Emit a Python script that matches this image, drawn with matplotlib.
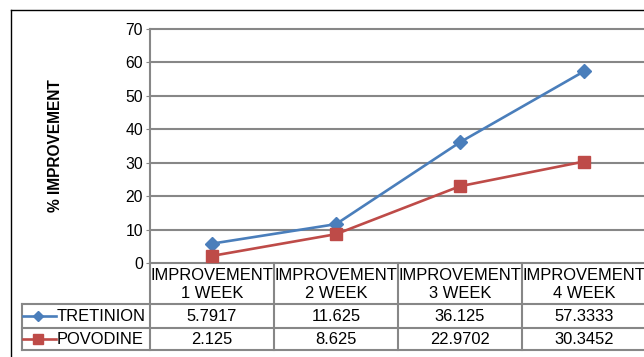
import matplotlib.pyplot as plt
from matplotlib.lines import Line2D

plt.rcParams['font.family'] = ['Liberation Sans', 'DejaVu Sans']

# data
categories = ['IMPROVEMENT\n1 WEEK', 'IMPROVEMENT\n2 WEEK',
              'IMPROVEMENT\n3 WEEK', 'IMPROVEMENT\n4 WEEK']
tretinion = [5.7917, 11.625, 36.125, 57.3333]
povodine = [2.125, 8.625, 22.9702, 30.3452]
tretinion_txt = ['5.7917', '11.625', '36.125', '57.3333']
povodine_txt = ['2.125', '8.625', '22.9702', '30.3452']
series_names = ['TRETINION', 'POVODINE']

blue = '#4A7EBB'
red = '#BE4B48'
grey = '#878787'

W, H = 644, 357
fig = plt.figure(figsize=(W / 100, H / 100), dpi=100)


def frac(x0, y0, x1, y1):
    # pixel box (from top left) -> figure fraction
    return [x0 / W, 1 - y1 / H, (x1 - x0) / W, (y1 - y0) / H]


# outer chart border
fig.add_artist(Line2D([11 / W, 1], [1 - 10 / H, 1 - 10 / H], color='black', lw=1))
fig.add_artist(Line2D([11 / W, 11 / W], [0, 1 - 10 / H], color='black', lw=1))

ax = fig.add_axes(frac(150, 29, 646, 263))
x = [i + 0.5 for i in range(len(categories))]
ax.plot(x, tretinion, color=blue, lw=1.9, marker='D', ms=7, zorder=3)
ax.plot(x, povodine, color=red, lw=1.9, marker='s', ms=8, zorder=3)
ax.set_xlim(0, len(categories))
ax.set_ylim(0, 70)
ax.set_yticks(range(0, 71, 10))
ax.set_xticks([])
ax.yaxis.grid(True, color=grey, lw=1.5)
for gl in ax.get_ygridlines():
    gl.set_clip_on(False)
ax.set_axisbelow(True)
for s in ['top', 'right', 'bottom']:
    ax.spines[s].set_visible(False)
ax.spines['left'].set_color(grey)
ax.spines['left'].set_linewidth(1.5)
ax.tick_params(axis='y', length=3, color=grey, labelsize=11.3, pad=2)
ax.set_ylabel('% IMPROVEMENT', fontsize=11.2, fontweight='bold', labelpad=45)

# data table under the plot
unit = 124.0
tax = fig.add_axes(frac(22, 263, 646, 350))
tax.set_xlim(-128 / unit, len(categories))
tax.set_ylim(87, 0)
tax.axis('off')
row_edges = [0, 41, 64.5, 87]
left = -128 / unit
for y in row_edges[1:]:
    tax.plot([left, len(categories)], [y, y], color=grey, lw=1.5, clip_on=False)
tax.plot([left, left], [row_edges[1], row_edges[3]], color=grey, lw=1.5, clip_on=False)
for i in range(1, len(categories)):
    tax.plot([i, i], [0, 87], color=grey, lw=1.5, clip_on=False)
tax.plot([0, 0], [0, 87], color=grey, lw=1.5, clip_on=False)

fs = 11.9
for i, cat in enumerate(categories):
    tax.text(i + 0.5, 21, cat, ha='center', va='center', fontsize=fs, linespacing=1.25)
rows = [tretinion_txt, povodine_txt]
colors = [blue, red]
markers = ['D', 's']
for r, vals in enumerate(rows):
    yc = (row_edges[r + 1] + row_edges[r + 2]) / 2
    for i, v in enumerate(vals):
        tax.text(i + 0.5, yc + 1, v, ha='center', va='center', fontsize=fs)
    tax.plot([-127 / unit, -94 / unit], [yc, yc], color=colors[r], lw=1.9, clip_on=False)
    tax.plot([-112 / unit], [yc], color=colors[r], marker=markers[r],
             ms=5 if r == 0 else 7, clip_on=False)
    tax.text(-93 / unit, yc + 1, series_names[r], ha='left', va='center', fontsize=fs)

fig.savefig('out.png', dpi=100)
